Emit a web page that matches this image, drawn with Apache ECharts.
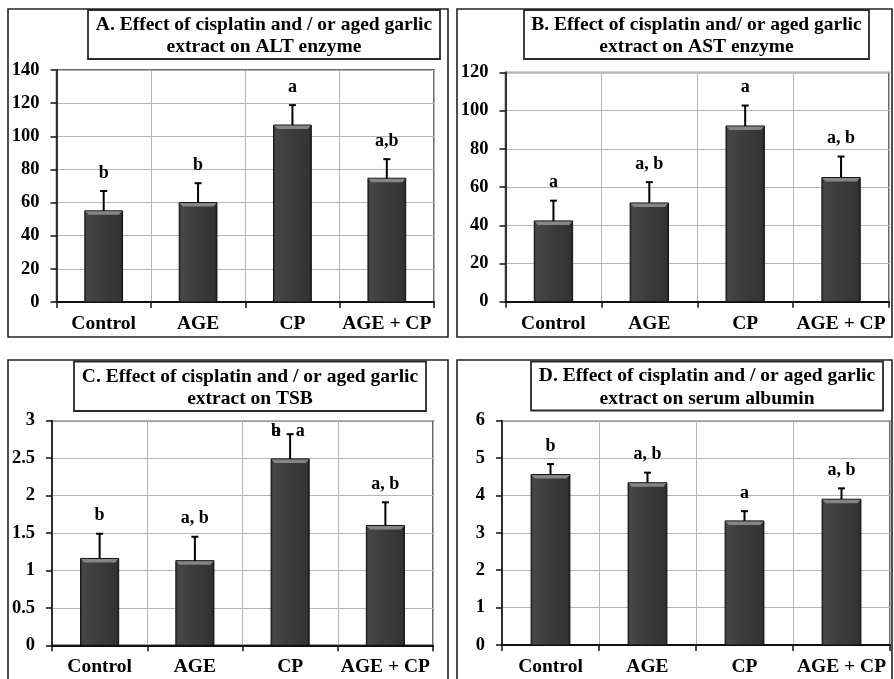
<!DOCTYPE html>
<html>
<head>
<meta charset="utf-8">
<script src="https://cdn.jsdelivr.net/npm/echarts@6/dist/echarts.min.js"></script>
<style>
html,body{margin:0;padding:0;background:#fff;}
#chart{width:894px;height:679px;}
</style>
</head>
<body>
<div id="chart"></div>
<script>
// ---- data ----
const categories = ['Control', 'AGE', 'CP', 'AGE + CP'];

const altMean = [55, 60, 106.8, 74.7];
const altSD = [12, 11.7, 12, 11.5];
const altLetters = ['b', 'b', 'a', 'a,b'];
const altTicks = [0, 20, 40, 60, 80, 100, 120, 140];

const astMean = [42.3, 51.7, 92, 65];
const astSD = [10.6, 10.9, 10.7, 11];
const astLetters = ['a', 'a, b', 'a', 'a, b'];
const astTicks = [0, 20, 40, 60, 80, 100, 120];

const tsbMean = [1.16, 1.13, 2.49, 1.60];
const tsbSD = [0.33, 0.32, 0.33, 0.31];
const tsbLetters = ['b', 'a, b', 'ab|a', 'a, b'];
const tsbTicks = [0, 0.5, 1, 1.5, 2, 2.5, 3];

const albMean = [4.56, 4.34, 3.32, 3.90];
const albSD = [0.28, 0.27, 0.26, 0.29];
const albLetters = ['b', 'a, b', 'a', 'a, b'];
const albTicks = [0, 1, 2, 3, 4, 5, 6];

const titleA = 'A. Effect of cisplatin and / or aged garlic\nextract on ALT enzyme';
const titleB = 'B. Effect of cisplatin and/ or aged garlic\nextract on AST enzyme';
const titleC = 'C. Effect of cisplatin and / or aged garlic\nextract on TSB';
const titleD = 'D. Effect of cisplatin and / or aged garlic\nextract on serum albumin';

// ---- rendering ----
const FONT = '"Liberation Serif", "Times New Roman", serif';
const chart = echarts.init(document.getElementById('chart'), null, {renderer: 'canvas'});

const panels = [
  {mean: altMean, sd: altSD, letters: altLetters, ticks: altTicks, title: titleA,
   grid: {left: 56.5, top: 70, width: 377.5, height: 232},
   box: [8, 9, 440, 328], tbox: [88, 10, 352, 49], tcy: 36},
  {mean: astMean, sd: astSD, letters: astLetters, ticks: astTicks, title: titleB,
   grid: {left: 505.5, top: 72.5, width: 383.5, height: 229.2},
   box: [457, 9, 435, 328], tbox: [524, 10, 345, 49], tcy: 36},
  {mean: tsbMean, sd: tsbSD, letters: tsbLetters, ticks: tsbTicks, title: titleC,
   grid: {left: 52, top: 420.7, width: 381, height: 224.6},
   box: [8, 360, 440, 340], tbox: [74, 361.5, 352, 49.5], tcy: 388},
  {mean: albMean, sd: albSD, letters: albLetters, ticks: albTicks, title: titleD,
   grid: {left: 502, top: 420.7, width: 388, height: 224.3},
   box: [457, 360, 435, 340], tbox: [531, 361.5, 352, 49], tcy: 387.5}
];

function barItem(params, api) {
  const i = api.value(0), v = api.value(1);
  const p0 = api.coord([i, 0]);
  const p1 = api.coord([i, v]);
  const w = api.size([1, 0])[0] * 0.4;
  const x0 = p0[0] - w / 2, y1 = p1[1], h = p0[1] - p1[1];
  return {
    type: 'group',
    children: [
      {type: 'rect', shape: {x: x0, y: y1, width: w, height: h},
       style: {
         fill: {type: 'linear', x: 0, y: 0, x2: 1, y2: 0, colorStops: [
           {offset: 0, color: '#2a2a2a'}, {offset: 0.07, color: '#474747'},
           {offset: 0.45, color: '#3c3c3c'}, {offset: 0.93, color: '#333333'},
           {offset: 1, color: '#1c1c1c'}]},
         stroke: '#111', lineWidth: 1}},
      {type: 'polygon', shape: {points: [[x0 + 0.5, y1 + 0.5], [x0 + w - 0.5, y1 + 0.5], [x0 + w - 3.5, y1 + 4], [x0 + 3.5, y1 + 4]]},
       style: {fill: '#858585'}}
    ]
  };
}

function errItem(letters) {
  return function (params, api) {
    const i = api.value(0), m = api.value(1), s = api.value(2);
    const top = api.coord([i, m]);
    const cap = api.coord([i, m + s]);
    const font = 'bold 18px ' + FONT;
    const children = [
      {type: 'line', shape: {x1: top[0], y1: top[1], x2: cap[0], y2: cap[1]}, style: {stroke: '#000', lineWidth: 2}},
      {type: 'line', shape: {x1: cap[0] - 3.5, y1: cap[1], x2: cap[0] + 3.5, y2: cap[1]}, style: {stroke: '#000', lineWidth: 2}}
    ];
    const txt = letters[params.dataIndex];
    if (txt.indexOf('|') >= 0) {
      const parts = txt.split('|');
      // left part: characters drawn overlapping, as in the original
      parts[0].split('').forEach(function (ch) {
        children.push({type: 'text', style: {text: ch, x: cap[0] - 14, y: cap[1] - 3, align: 'center', verticalAlign: 'middle', font: font, fill: '#000'}});
      });
      children.push({type: 'text', style: {text: parts[1], x: cap[0] + 10, y: cap[1] - 3, align: 'center', verticalAlign: 'middle', font: font, fill: '#000'}});
    } else {
      children.push({type: 'text', style: {text: txt, x: cap[0], y: cap[1] - 18, align: 'center', verticalAlign: 'middle', font: font, fill: '#000'}});
    }
    return {type: 'group', children: children};
  };
}

const grids = [], xAxes = [], yAxes = [], series = [], graphics = [];
panels.forEach(function (p, k) {
  grids.push(Object.assign({show: true, borderColor: '#3a3a3a', borderWidth: 1.5, backgroundColor: 'transparent',
    containLabel: false, outerBoundsMode: 'none'}, p.grid));
  xAxes.push({
    type: 'category', gridIndex: k, data: categories, boundaryGap: true,
    axisLine: {show: true, lineStyle: {color: '#111', width: 2}},
    axisTick: {show: true, interval: 0, length: 6, lineStyle: {color: '#111', width: 1.5}},
    splitLine: {show: true, interval: 0, lineStyle: {color: '#b5b5b5', width: 1}},
    axisLabel: {interval: 0, margin: 12, color: '#000', fontFamily: FONT, fontWeight: 'bold', fontSize: 19.5}
  });
  yAxes.push({
    type: 'value', gridIndex: k,
    min: p.ticks[0], max: p.ticks[p.ticks.length - 1], interval: p.ticks[1] - p.ticks[0],
    axisLine: {show: true, lineStyle: {color: '#222', width: 1.8}},
    axisTick: {show: true, length: 6, lineStyle: {color: '#111', width: 1.5}},
    splitLine: {show: true, lineStyle: {color: '#b5b5b5', width: 1}},
    axisLabel: {margin: 17, color: '#000', fontFamily: FONT, fontWeight: 'bold', fontSize: 18.5}
  });
  const bdata = p.mean.map(function (v, i) { return [i, v]; });
  const edata = p.mean.map(function (v, i) { return [i, v, p.sd[i]]; });
  series.push({type: 'custom', xAxisIndex: k, yAxisIndex: k, renderItem: barItem, data: bdata, z: 3,
    encode: {x: 0, y: 1}, silent: true});
  series.push({type: 'custom', xAxisIndex: k, yAxisIndex: k, renderItem: errItem(p.letters), data: edata, z: 4,
    encode: {x: 0, y: [1, 2]}, silent: true});
  // panel border
  graphics.push({type: 'rect', shape: {x: p.box[0], y: p.box[1], width: p.box[2], height: p.box[3]},
    style: {fill: 'none', stroke: '#222', lineWidth: 1.6}, z: 10, silent: true});
  // title box
  graphics.push({type: 'rect', shape: {x: p.tbox[0], y: p.tbox[1], width: p.tbox[2], height: p.tbox[3]},
    style: {fill: '#fff', stroke: '#2a2a2a', lineWidth: 1.8}, z: 11, silent: true});
  graphics.push({type: 'text', x: p.tbox[0] + p.tbox[2] / 2, y: p.tcy, z: 12, silent: true,
    style: {text: p.title, align: 'center', verticalAlign: 'middle', lineHeight: 22.5,
      font: 'bold 19.5px ' + FONT, fill: '#000'}});
});

chart.setOption({
  animation: false,
  backgroundColor: '#fff',
  grid: grids,
  xAxis: xAxes,
  yAxis: yAxes,
  series: series,
  graphic: graphics
});
</script>
</body>
</html>
